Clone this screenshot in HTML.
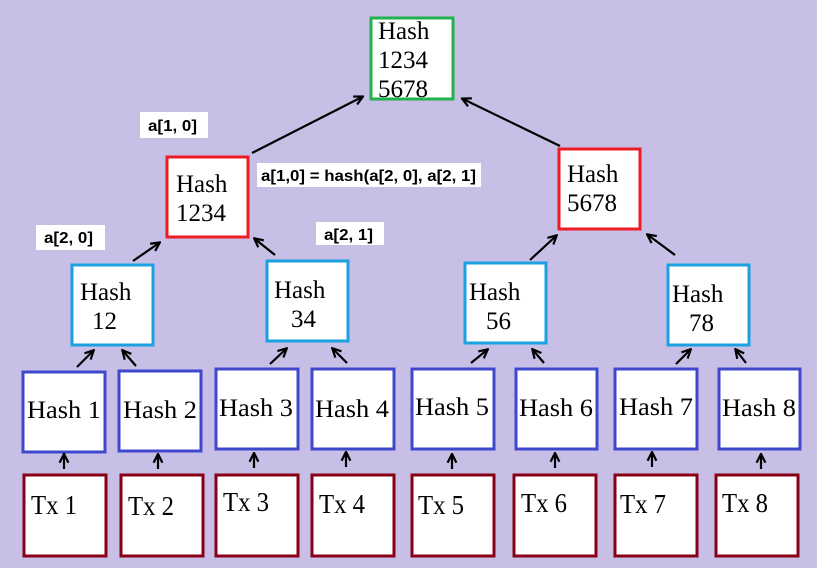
<!DOCTYPE html>
<html><head><meta charset="utf-8"><style>
html,body{margin:0;padding:0;background:#c8bfe6;}
svg{display:block}
.s{font-family:"Liberation Serif",serif;font-size:25px;fill:#000}
.c{font-family:"Liberation Serif",serif;font-size:25px;fill:#000}
.t{font-family:"Liberation Serif",serif;font-size:27px;fill:#000}
.l{font-family:"Liberation Sans",sans-serif;font-size:15.5px;font-weight:bold;fill:#000}
</style></head><body>
<svg width="817" height="568" viewBox="0 0 817 568" xmlns="http://www.w3.org/2000/svg">
<defs><marker id="a" viewBox="0 0 10 10" refX="8" refY="5" markerWidth="5" markerHeight="5" orient="auto"><path d="M1,1 L9,5 L1,9" fill="none" stroke="#000" stroke-width="2"/></marker></defs>
<rect width="817" height="568" fill="#c8bfe6"/>
<g fill="#fff" stroke-width="3">
<rect x="371" y="18" width="82" height="81" stroke="#22b14c"/>
<rect x="167" y="157" width="81" height="80" stroke="#ed1c24"/>
<rect x="559" y="149" width="81" height="80" stroke="#ed1c24"/>
<g stroke="#1ba1e2">
<rect x="72" y="265" width="81" height="80"/>
<rect x="267" y="261" width="81" height="80"/>
<rect x="465" y="263" width="81" height="80"/>
<rect x="668" y="265" width="81" height="80"/>
</g>
<g stroke="#3f48cc">
<rect x="23" y="372" width="82" height="80"/>
<rect x="119" y="371" width="82" height="80"/>
<rect x="216" y="369" width="82" height="80"/>
<rect x="312" y="369" width="82" height="80"/>
<rect x="412" y="369" width="82" height="80"/>
<rect x="516" y="369" width="81" height="80"/>
<rect x="615" y="369" width="82" height="80"/>
<rect x="719" y="369" width="81" height="80"/>
</g>
<g stroke="#880015">
<rect x="24" y="475" width="82" height="81"/>
<rect x="121" y="475" width="82" height="81"/>
<rect x="216" y="475" width="82" height="81"/>
<rect x="312" y="475" width="82" height="81"/>
<rect x="412" y="475" width="82" height="81"/>
<rect x="514" y="475" width="82" height="81"/>
<rect x="615" y="475" width="82" height="81"/>
<rect x="716" y="475" width="82" height="81"/>
</g>
</g>
<g fill="#fff">
<rect x="140" y="112" width="68" height="26"/>
<rect x="36" y="225" width="69" height="25"/>
<rect x="316" y="222" width="68" height="23"/>
<rect x="257" y="163" width="224" height="24"/>
</g>
<g class="l">
<text x="148" y="131" textLength="49" lengthAdjust="spacingAndGlyphs">a[1, 0]</text>
<text x="44" y="243" textLength="49" lengthAdjust="spacingAndGlyphs">a[2, 0]</text>
<text x="324" y="240" textLength="49" lengthAdjust="spacingAndGlyphs">a[2, 1]</text>
<text x="261" y="181" textLength="215" lengthAdjust="spacingAndGlyphs">a[1,0] = hash(a[2, 0], a[2, 1]</text>
</g>
<g class="s">
<text x="378" y="39">Hash</text><text x="378" y="68">1234</text><text x="378" y="97">5678</text>
<text x="176" y="192">Hash</text><text x="176" y="221">1234</text>
<text x="567" y="182">Hash</text><text x="567" y="211">5678</text>
<text x="80" y="300">Hash</text><text x="92" y="329">12</text>
<text x="274" y="298">Hash</text><text x="291" y="327">34</text>
<text x="469" y="300">Hash</text><text x="486" y="329">56</text>
<text x="672" y="302">Hash</text><text x="689" y="331">78</text>
</g>
<g class="c">
<text x="27" y="418" textLength="74" lengthAdjust="spacingAndGlyphs">Hash 1</text>
<text x="123" y="418" textLength="74" lengthAdjust="spacingAndGlyphs">Hash 2</text>
<text x="219" y="416" textLength="74" lengthAdjust="spacingAndGlyphs">Hash 3</text>
<text x="315" y="417" textLength="74" lengthAdjust="spacingAndGlyphs">Hash 4</text>
<text x="415" y="415" textLength="74" lengthAdjust="spacingAndGlyphs">Hash 5</text>
<text x="519" y="416" textLength="74" lengthAdjust="spacingAndGlyphs">Hash 6</text>
<text x="619" y="415" textLength="74" lengthAdjust="spacingAndGlyphs">Hash 7</text>
<text x="722" y="416" textLength="74" lengthAdjust="spacingAndGlyphs">Hash 8</text>
</g>
<g class="t">
<text x="31" y="514" textLength="46" lengthAdjust="spacingAndGlyphs">Tx 1</text>
<text x="128" y="515" textLength="46" lengthAdjust="spacingAndGlyphs">Tx 2</text>
<text x="223" y="511" textLength="46" lengthAdjust="spacingAndGlyphs">Tx 3</text>
<text x="319" y="513" textLength="46" lengthAdjust="spacingAndGlyphs">Tx 4</text>
<text x="418" y="514" textLength="46" lengthAdjust="spacingAndGlyphs">Tx 5</text>
<text x="521" y="512" textLength="46" lengthAdjust="spacingAndGlyphs">Tx 6</text>
<text x="620" y="513" textLength="46" lengthAdjust="spacingAndGlyphs">Tx 7</text>
<text x="722" y="512" textLength="46" lengthAdjust="spacingAndGlyphs">Tx 8</text>
</g>
<g stroke="#000" stroke-width="2.2" fill="none" marker-end="url(#a)">
<line x1="252" y1="153" x2="362" y2="97"/>
<line x1="560" y1="146" x2="463" y2="99"/>
<line x1="133" y1="261" x2="159" y2="243"/>
<line x1="275" y1="255" x2="255" y2="239"/>
<line x1="530" y1="260" x2="556" y2="236"/>
<line x1="675" y1="255" x2="648" y2="235"/>
<line x1="77" y1="367" x2="93" y2="351"/>
<line x1="136" y1="366" x2="123" y2="351"/>
<line x1="270" y1="364" x2="286" y2="349"/>
<line x1="347" y1="363" x2="333" y2="349"/>
<line x1="471" y1="363" x2="487" y2="350"/>
<line x1="544" y1="363" x2="533" y2="350"/>
<line x1="676" y1="364" x2="690" y2="350"/>
<line x1="746" y1="363" x2="736" y2="350"/>
<line x1="64" y1="469" x2="64" y2="455"/>
<line x1="158" y1="469" x2="158" y2="455"/>
<line x1="254" y1="468" x2="254" y2="454"/>
<line x1="346" y1="467" x2="346" y2="453"/>
<line x1="452" y1="469" x2="452" y2="455"/>
<line x1="555" y1="468" x2="555" y2="454"/>
<line x1="652" y1="467" x2="652" y2="453"/>
<line x1="761" y1="469" x2="761" y2="455"/>
</g>
</svg>
</body></html>
